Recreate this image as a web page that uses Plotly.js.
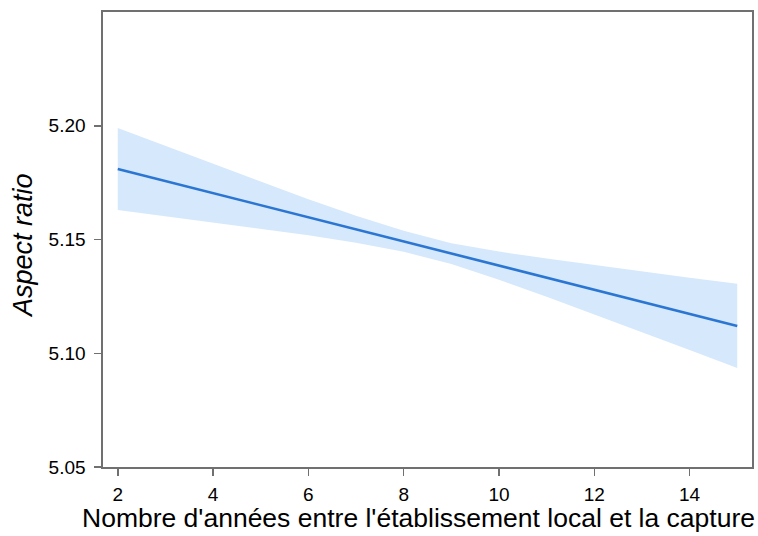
<!DOCTYPE html>
<html>
<head>
<meta charset="utf-8">
<script src="https://cdn.plot.ly/plotly-3.0.1.min.js"></script>
<style>html,body{margin:0;padding:0;background:#fff;}#chart{width:758px;height:536px;}</style>
</head>
<body>
<div id="chart"></div>
<script>
// Years between local establishment and capture
const years = [2, 3, 4, 5, 6, 7, 8, 9, 10, 11, 12, 13, 14, 15];
// Fitted aspect ratio
const fitted = [5.1810, 5.1757, 5.1704, 5.1651, 5.1598, 5.1545, 5.1492, 5.1438, 5.1385, 5.1332, 5.1279, 5.1226, 5.1173, 5.1120];
// Confidence band
const upper = [5.1990, 5.1911, 5.1832, 5.1754, 5.1677, 5.1604, 5.1538, 5.1484, 5.1447, 5.1416, 5.1387, 5.1359, 5.1332, 5.1305];
const lower = [5.1630, 5.1603, 5.1576, 5.1548, 5.1519, 5.1486, 5.1446, 5.1392, 5.1323, 5.1248, 5.1171, 5.1093, 5.1014, 5.0935];
const yTicks = [5.05, 5.10, 5.15, 5.20];
const yTickText = ['5.05', '5.10', '5.15', '5.20'];
const xTicks = [2, 4, 6, 8, 10, 12, 14];
const xTitle = "Nombre d'années entre l'établissement local et la capture";
const yTitle = 'Aspect ratio';

const traces = [
  {x: years, y: lower, type: 'scatter', mode: 'lines', line: {width: 0, color: 'rgba(0,0,0,0)'}, hoverinfo: 'skip', showlegend: false},
  {x: years, y: upper, type: 'scatter', mode: 'lines', line: {width: 0, color: 'rgba(0,0,0,0)'}, fill: 'tonexty', fillcolor: '#d6e8fc', hoverinfo: 'skip', showlegend: false},
  {x: years, y: fitted, type: 'scatter', mode: 'lines', line: {width: 2.6, color: '#2a76d2'}, showlegend: false}
];

const axisCommon = {
  showgrid: false, zeroline: false, showline: true, linecolor: '#707070', linewidth: 1.6,
  mirror: true, ticks: 'outside', ticklen: 7, tickwidth: 1.5, tickcolor: '#707070'
};

const layout = {
  width: 758, height: 536,
  margin: {l: 103, r: 6, t: 12, b: 69},
  paper_bgcolor: '#ffffff', plot_bgcolor: '#ffffff',
  font: {family: 'Liberation Sans, Arial, sans-serif', color: '#000'},
  xaxis: Object.assign({}, axisCommon, {
    range: [1.69, 15.31], tickvals: xTicks, ticktext: xTicks.map(String),
    tickfont: {size: 19, color: '#000'}, ticklabelstandoff: 3
  }),
  yaxis: Object.assign({}, axisCommon, {
    range: [5.05, 5.25], tickvals: yTicks, ticktext: yTickText,
    tickfont: {size: 19, color: '#000'}, ticklabelstandoff: 5
  }),
  annotations: [
    {text: xTitle, xref: 'paper', yref: 'paper', x: 0.4855, y: -0.111, xanchor: 'center', yanchor: 'middle',
     showarrow: false, font: {size: 26.5, color: '#000'}},
    {text: '<i>' + yTitle + '</i>', xref: 'paper', yref: 'paper', x: -0.1233, y: 0.488, xanchor: 'center', yanchor: 'middle',
     textangle: -90, showarrow: false, font: {size: 27, color: '#000'}}
  ]
};

Plotly.newPlot('chart', traces, layout, {displayModeBar: false, staticPlot: true});
</script>
</body>
</html>
